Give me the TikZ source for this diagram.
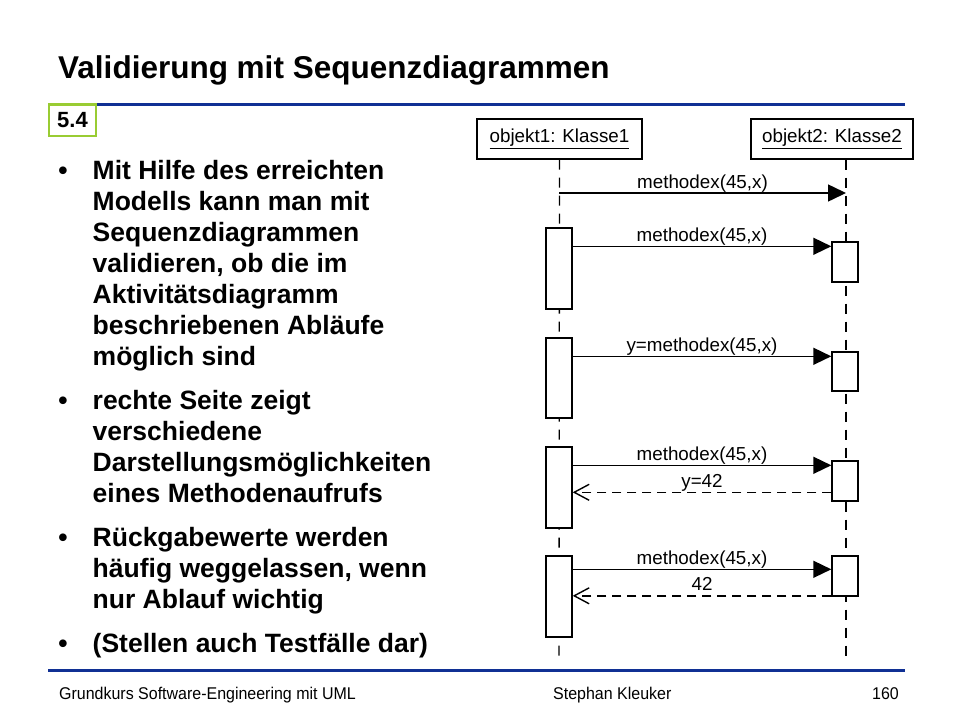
\documentclass[tikz,border=0pt]{standalone}
\usepackage{fontspec}
\setmainfont{Liberation Sans}
\newfontfamily\footfont[FakeStretch=0.94]{Liberation Sans}
\usetikzlibrary{arrows.meta}
\definecolor{slideblue}{RGB}{16,48,148}
\definecolor{secgreen}{RGB}{153,204,51}
\begin{document}
\begin{tikzpicture}[x=1pt,y=-1pt,
  titletext/.style={anchor=base west, inner sep=0pt, font=\bfseries\fontsize{31.5}{36}\selectfont},
  bullettext/.style={anchor=base west, inner sep=0pt, align=left, font=\bfseries\fontsize{26.5}{31}\selectfont},
  bulletmark/.style={anchor=base, inner sep=0pt, font=\bfseries\fontsize{26.5}{31}\selectfont},
  secbox/.style={draw=secgreen, line width=2.5pt, fill=white, minimum width=47pt, minimum height=31.5pt, inner sep=0pt, font=\bfseries\fontsize{22}{26}\selectfont},
  sliderule/.style={draw=slideblue, line width=3pt},
  objbox/.style={draw, line width=1.4pt, fill=white, minimum height=40pt, inner sep=0pt, font=\fontsize{18.8}{22}\selectfont},
  actbox/.style={draw, line width=1.4pt, fill=white, minimum width=26pt, inner sep=0pt},
  lifeline/.style={line width=1.3pt, dash pattern=on 10pt off 8pt},
  callmsg/.style={line width=1.5pt, -{Triangle[length=18pt,width=17pt]}},
  replymsg/.style={line width=1.4pt, dash pattern=on 9pt off 6pt, -{Straight Barb[length=15pt,width=16pt]}},
  msglabel/.style={midway, anchor=base, inner sep=0pt, yshift=5pt, font=\fontsize{18.8}{22}\selectfont},
  footer/.style={anchor=base west, inner sep=0pt, font=\footfont\fontsize{17}{20}\selectfont}
]
\useasboundingbox (0,0) rectangle (960,720);
\fill[white] (0,0) rectangle (960,720);

% title and rules
\node[titletext] (title) at (58,78) {Validierung mit Sequenzdiagrammen};
\coordinate (rule1e) at (905,104);
\coordinate (rule2s) at (48,670);
\coordinate (rule2e) at (905,670);
\node[secbox] (sec) at (72.5,120) {5.4};
\draw[sliderule] (sec.east |- rule1e) -- (rule1e);
\draw[sliderule] (rule2s) -- (rule2e);

% bullet list (multi-line nodes are anchored at the baseline of their last line)
\node[bulletmark] (b1m) at (63,179) {•};
\node[bullettext] (b1t) at (92.5,365) {Mit Hilfe des erreichten\\Modells kann man mit\\Sequenzdiagrammen\\validieren, ob die im\\Aktivitätsdiagramm\\beschriebenen Abläufe\\möglich sind};
\node[bulletmark] (b2m) at (63,409) {•};
\node[bullettext] (b2t) at (92.5,502) {rechte Seite zeigt\\verschiedene\\Darstellungsmöglichkeiten\\eines Methodenaufrufs};
\node[bulletmark] (b3m) at (63,546) {•};
\node[bullettext] (b3t) at (92.5,608) {Rückgabewerte werden\\häufig weggelassen, wenn\\nur Ablauf wichtig};
\node[bulletmark] (b4m) at (63,652) {•};
\node[bullettext] (b4t) at (92.5,652) {(Stellen auch Testfälle dar)};

% footer
\node[footer] (f1) at (59,699) {Grundkurs Software-Engineering mit UML};
\node[footer] (f2) at (553,699) {Stephan Kleuker};
\node[footer, anchor=base east] (f3) at (899,699) {160};

% sequence diagram
\node[objbox, minimum width=165pt] (o1) at (559.5,139) {\underline{objekt1: Klasse1}};
\node[objbox, minimum width=162pt] (o2) at (832,139) {\underline{objekt2: Klasse2}};
\coordinate (l1b) at (559,662);
\coordinate (l2b) at (846,662);
\draw[lifeline] (o1.south) -- (l1b);
\draw[lifeline] (o2.south -| l2b) -- (l2b);

\node[actbox, minimum height=81pt] (a2) at (559,268.5) {};
\node[actbox, minimum height=80pt] (a3) at (559,378) {};
\node[actbox, minimum height=81pt] (a4) at (559,487.5) {};
\node[actbox, minimum height=81pt] (a5) at (559,596.5) {};
\node[actbox, minimum height=40pt] (c2) at (845,262) {};
\node[actbox, minimum height=39pt] (c3) at (845,371.5) {};
\node[actbox, minimum height=40pt] (c4) at (845,481) {};
\node[actbox, minimum height=40pt] (c5) at (845,576) {};

\coordinate (m1s) at (559,193);
\coordinate (m1e) at (846,193);
\draw[callmsg] (m1s) -- node[msglabel] {methodex(45,x)} (m1e);
\draw[callmsg] ([yshift=-19pt]a2.north east) -- node[msglabel] {methodex(45,x)} ([yshift=-5pt]c2.north west);
\draw[callmsg] ([yshift=-19pt]a3.north east) -- node[msglabel] {y=methodex(45,x)} ([yshift=-5pt]c3.north west);
\draw[callmsg] ([yshift=-19pt]a4.north east) -- node[msglabel] {methodex(45,x)} ([yshift=-5pt]c4.north west);
\draw[replymsg] ([yshift=-32pt]c4.north west) -- node[msglabel] {y=42} ([yshift=-46pt]a4.north east);
\draw[callmsg] ([yshift=-14pt]a5.north east) -- node[msglabel] {methodex(45,x)} ([yshift=-14pt]c5.north west);
\draw[replymsg] ([yshift=-40.5pt]c5.north west) -- node[msglabel] {42} ([yshift=-40.5pt]a5.north east);
\end{tikzpicture}
\end{document}
